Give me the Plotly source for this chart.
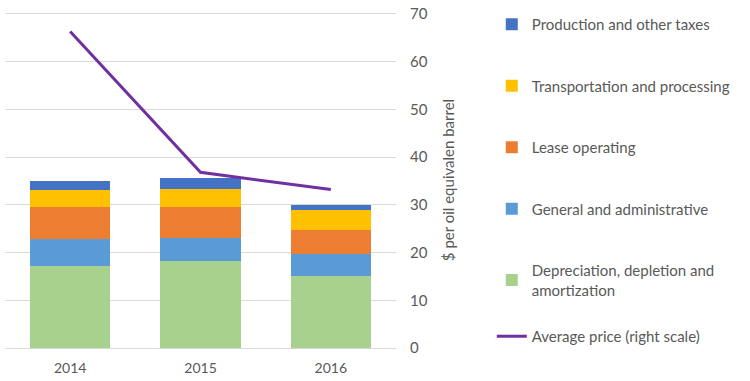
import plotly.graph_objects as go

years = ["2014", "2015", "2016"]
dda = [17.2, 18.2, 15.1]
gna = [5.65, 4.9, 4.7]
lease = [6.7, 6.45, 4.9]
transport = [3.55, 3.75, 4.2]
taxes = [1.9, 2.3, 1.1]
avg_price = [66.3, 36.8, 33.2]

names = ["Depreciation, depletion and<br>amortization", "General and administrative",
         "Lease operating", "Transportation and processing", "Production and other taxes"]
series = [dda, gna, lease, transport, taxes]
colors = ["#A9D18E", "#5B9BD5", "#ED7D31", "#FFC000", "#4472C4"]
ranks = [5, 4, 3, 2, 1]

fig = go.Figure()
for n, s, c, r in zip(names, series, colors, ranks):
    fig.add_trace(go.Bar(x=years, y=s, name=n, marker=dict(color=c, line=dict(width=0)),
                         legendgroup=n, legendrank=r))
fig.add_trace(go.Scatter(x=years, y=avg_price, name="Average price (right scale)", mode="lines",
                         line=dict(color="#7030A0", width=3), legend="legend2"))

font = dict(family="Lato, Open Sans, sans-serif", size=14, color="#595959")
fig.update_layout(
    width=750, height=381,
    margin=dict(l=5, r=354, t=12, b=33, autoexpand=False),
    barmode="stack", bargap=0.385,
    plot_bgcolor="white", paper_bgcolor="white",
    font=font,
    showlegend=True,
    legend=dict(xref="container", yref="container", x=0.6557, xanchor="left", y=0.979, yanchor="top",
                traceorder="grouped", maxheight=1.0,
                tracegroupgap=39, font=dict(size=15, color="#595959"), bgcolor="rgba(0,0,0,0)"),
    legend2=dict(xref="container", yref="container", x=0.6557, xanchor="left", y=0.160, yanchor="top",
                 font=dict(size=15, color="#595959"), bgcolor="rgba(0,0,0,0)"),
    xaxis=dict(showline=True, linecolor="#D9D9D9", ticks="outside", ticklen=7,
               tickcolor="rgba(0,0,0,0)", tickfont=dict(size=14)),
    yaxis=dict(side="right", range=[0, 70.4], tickvals=[0, 10, 20, 30, 40, 50, 60, 70],
               showgrid=True, gridcolor="#D9D9D9", gridwidth=1, ticklabeloverflow="allow",
               zeroline=False, ticks="outside", ticklen=10, tickcolor="rgba(0,0,0,0)",
               tickfont=dict(size=15),
               title=dict(text="$ per oil equivalen barrel", font=dict(size=15), standoff=16)),
)
fig.write_html("out.html", config={"displayModeBar": False},
               post_script="document.body.style.margin='0px';")
